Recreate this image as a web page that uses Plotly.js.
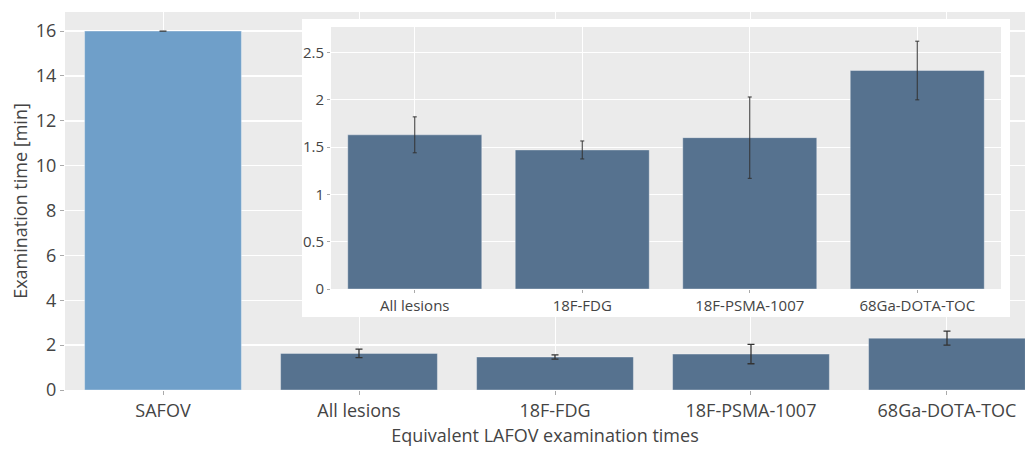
<!DOCTYPE html>
<html>
<head>
<meta charset="utf-8">
<script src="https://cdn.plot.ly/plotly-3.0.1.min.js"></script>
<style>html,body{margin:0;padding:0;background:#fff;}#chart{width:1025px;height:452px;}</style>
</head>
<body>
<div id="chart"></div>
<script>
// Data
const categories = ['SAFOV', 'All lesions', '18F-FDG', '18F-PSMA-1007', '68Ga-DOTA-TOC'];
const examTimes = [16, 1.63, 1.47, 1.60, 2.31];
const examErrors = [0, 0.19, 0.095, 0.43, 0.31];
const insetCategories = ['All lesions', '18F-FDG', '18F-PSMA-1007', '68Ga-DOTA-TOC'];
const insetTimes = [1.63, 1.47, 1.60, 2.31];
const insetErrors = [0.19, 0.095, 0.43, 0.31];
const yTicks = [0, 2, 4, 6, 8, 10, 12, 14, 16];
const insetTicks = [0, 0.5, 1, 1.5, 2, 2.5];
const insetTickText = ['0', '0.5', '1', '1.5', '2', '2.5'];

const safovColor = '#6f9fc9';
const lafovColor = '#56728f';
const barColors = categories.map((c, i) => i === 0 ? safovColor : lafovColor);
const textColor = '#444444';
const font = 'Open Sans, sans-serif';

const traces = [
  {
    type: 'bar', x: categories, y: examTimes, xaxis: 'x', yaxis: 'y',
    marker: {color: barColors, line: {color: 'rgba(255,255,255,0.35)', width: 1}},
    error_y: {type: 'data', array: examErrors, visible: true, color: '#333', thickness: 1.3, width: 3.5},
    hoverinfo: 'x+y', showlegend: false
  },
  {
    // frame for inset (decoration only)
    type: 'scatter', x: [], y: [], xaxis: 'x2', yaxis: 'y2', showlegend: false, hoverinfo: 'skip'
  },
  {
    type: 'bar', x: insetCategories, y: insetTimes, xaxis: 'x3', yaxis: 'y3',
    marker: {color: lafovColor, line: {color: 'rgba(255,255,255,0.35)', width: 1}},
    error_y: {type: 'data', array: insetErrors, visible: true, color: '#333', thickness: 1, width: 2},
    hoverinfo: 'x+y', showlegend: false
  }
];

// geometry
const L = 65, T = 12, B = 62, W = 1025, H = 452;
const pw = W - L, ph = H - T - B;
const fx = px => (px - L) / pw;
const fy = py => (H - B - py) / ph;

const layout = {
  width: W, height: H,
  margin: {l: L, r: 0, t: T, b: B, pad: 0},
  paper_bgcolor: '#ffffff',
  plot_bgcolor: '#ebebeb',
  font: {family: font, color: textColor, size: 18},
  bargap: 0.2,
  showlegend: false,
  xaxis: {
    domain: [0, 1], range: [-0.5, 4.398], type: 'category',
    showgrid: true, gridcolor: '#ffffff', gridwidth: 1,
    ticks: 'outside', ticklen: 4, tickcolor: '#aaaaaa',
    tickfont: {size: 18, color: textColor, family: font},
    showline: false, zeroline: false,
    title: {text: 'Equivalent LAFOV examination times', font: {size: 18, color: textColor, family: font}, standoff: 8}
  },
  yaxis: {
    domain: [0, 1], range: [0, 16.85],
    tickvals: yTicks, ticktext: yTicks.map(String),
    showgrid: true, gridcolor: '#ffffff', gridwidth: 1.5,
    ticks: 'outside', ticklen: 4, tickcolor: '#aaaaaa',
    tickfont: {size: 18, color: textColor, family: font},
    zeroline: false, showline: false,
    title: {text: 'Examination time [min]', font: {size: 18, color: textColor, family: font}, standoff: 3}
  },
  xaxis2: {
    domain: [fx(302), fx(1010)], range: [0, 1], anchor: 'y2',
    visible: false, fixedrange: true
  },
  yaxis2: {
    domain: [fy(317), fy(19)], range: [0, 1], anchor: 'x2',
    visible: false, fixedrange: true
  },
  xaxis3: {
    domain: [fx(331), fx(1001)], range: [-0.5, 3.5], type: 'category', anchor: 'y3',
    showgrid: true, gridcolor: '#ffffff', gridwidth: 1,
    ticks: 'outside', ticklen: 3, tickcolor: '#aaaaaa',
    tickfont: {size: 15, color: textColor, family: font},
    zeroline: false, showline: false
  },
  yaxis3: {
    domain: [fy(289), fy(27)], range: [0, 2.77], anchor: 'x3',
    tickvals: insetTicks, ticktext: insetTickText,
    showgrid: true, gridcolor: '#ffffff', gridwidth: 1,
    ticks: 'outside', ticklen: 3, tickcolor: '#aaaaaa',
    tickfont: {size: 15, color: textColor, family: font},
    zeroline: false, showline: false
  },
  shapes: [
    {type: 'rect', xref: 'x2', yref: 'y2', x0: 0, x1: 1, y0: 0, y1: 1,
     fillcolor: '#ffffff', line: {width: 0}, layer: 'below'}
  ]
};

Plotly.newPlot('chart', traces, layout, {staticPlot: true, displayModeBar: false});
</script>
</body>
</html>
